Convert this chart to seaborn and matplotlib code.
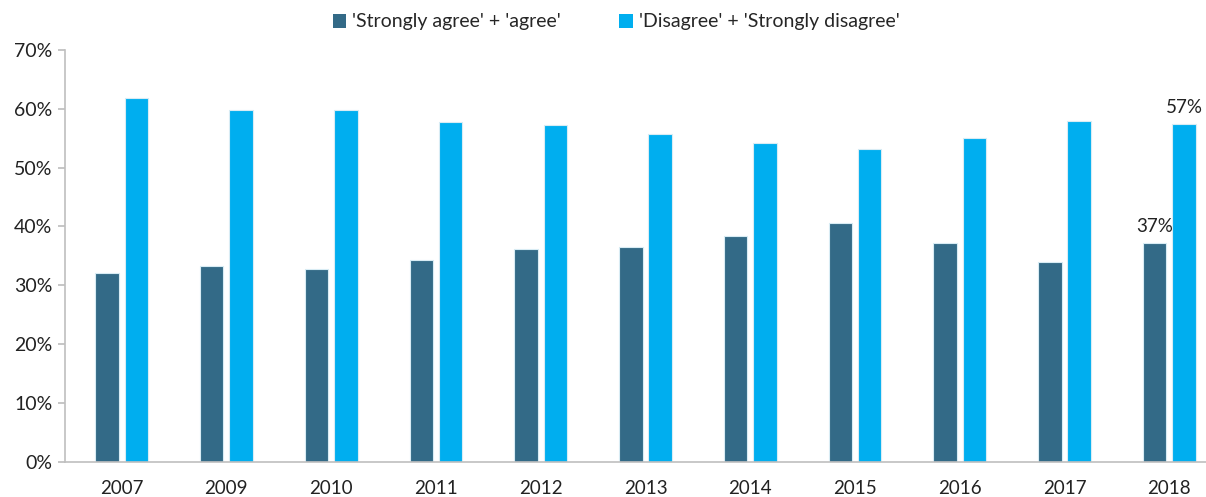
import matplotlib
matplotlib.use("Agg")
import matplotlib.pyplot as plt
import seaborn as sns
import pandas as pd
from matplotlib.ticker import FuncFormatter

years = ["2007", "2009", "2010", "2011", "2012", "2013", "2014", "2015", "2016", "2017", "2018"]
agree = [32.0, 33.2, 32.7, 34.3, 36.1, 36.5, 38.4, 40.6, 37.2, 34.0, 37.2]
disagree = [61.8, 59.8, 59.8, 57.7, 57.3, 55.7, 54.2, 53.1, 55.1, 57.9, 57.4]
series_names = ["'Strongly agree' + 'agree'", "'Disagree' + 'Strongly disagree'"]
colors = ["#336A87", "#00AEEF"]

df = pd.DataFrame({
    "year": years * 2,
    "value": agree + disagree,
    "series": [series_names[0]] * len(years) + [series_names[1]] * len(years),
})

sns.set_theme(style="white")
plt.rcParams["font.family"] = ["Lato", "DejaVu Sans"]

fig = plt.figure(figsize=(12.06, 4.97), dpi=100)
ax = fig.add_axes([65 / 1206, 1 - 461.7 / 497, 1 - 65 / 1206, (461.7 - 50) / 497])

sns.barplot(data=df, x="year", y="value", hue="series", palette=colors,
            width=0.56, gap=0.2, ax=ax, edgecolor="#D8ECF4", linewidth=0.8,
            saturation=1, legend=True)

ax.set_ylim(0, 70)
ax.set_xlim(-0.54, 10.35)
ax.set_yticks(range(0, 71, 10))
ax.yaxis.set_major_formatter(FuncFormatter(lambda v, p: f"{int(v)}%"))
ax.set_xlabel("")
ax.set_ylabel("")
for s in ["top", "right"]:
    ax.spines[s].set_visible(False)
for s in ["left", "bottom"]:
    ax.spines[s].set_color("#BFBFBF")
    ax.spines[s].set_linewidth(1.2)
ax.tick_params(axis="y", which="major", left=True, length=5, color="#BFBFBF",
               labelsize=14, labelcolor="#222222", pad=4)
ax.tick_params(axis="x", bottom=False, labelsize=13.5, labelcolor="#222222", pad=7)

# data labels for 2018
last = len(years) - 1
ax.annotate(f"{round(agree[last])}%", xy=(last - 0.14, agree[last]), xytext=(0, 6),
            textcoords="offset points", ha="center", va="bottom", fontsize=13.5, color="#222222")
ax.annotate(f"{round(disagree[last])}%", xy=(last + 0.14, disagree[last]), xytext=(0, 6),
            textcoords="offset points", ha="center", va="bottom", fontsize=13.5, color="#222222")

handles, labels = ax.get_legend_handles_labels()
ax.get_legend().remove()
leg = fig.legend(handles, labels, loc="center", bbox_to_anchor=(616 / 1206, 1 - 22 / 497),
                 ncol=2, frameon=False, fontsize=14, handlelength=0.7, handleheight=0.7,
                 handletextpad=0.3, columnspacing=3.0, borderaxespad=0)
for h in leg.legend_handles:
    h.set_edgecolor("none")

fig.savefig("out.png", dpi=100)
